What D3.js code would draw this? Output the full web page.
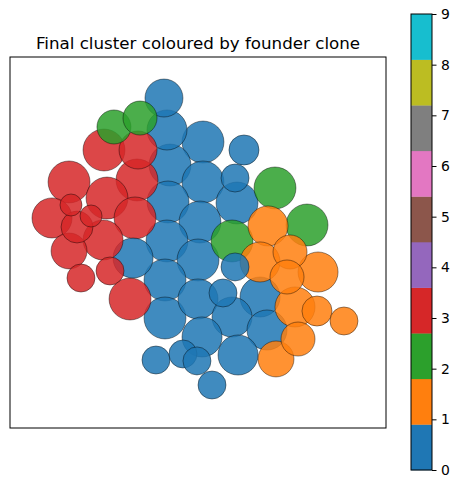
<!DOCTYPE html>
<html>
<head>
<meta charset="utf-8">
<script src="https://cdn.jsdelivr.net/npm/d3@7"></script>
<style>
  html, body { margin: 0; padding: 0; background: #fff; }
  svg { display: block; }
  text { font-family: "DejaVu Sans", sans-serif; fill: #000; }
</style>
</head>
<body>
<svg id="chart" width="461" height="489"></svg>
<script>
// ---- data (cell positions x, y, radius r in data units; founder clone id) ----
// clone 0 (blue)
const blueX = [-3.62, -3.30, 0.53, 4.89, -2.98, 3.94, 0.53, 4.15, -3.19, 0.21, -3.30, 0.00, 3.94, -6.91,
  -3.51, 0.00, 2.66, 6.60, -3.51, 3.62, 0.43, 7.34, 4.26, -4.47, -1.60, -0.11, 1.49];
const blueY = [15.37, 11.97, 10.69, 9.84, 8.24, 6.86, 6.44, 4.20, 4.31, 2.18, 0.16, -1.86, -2.60, -1.65,
  -3.99, -6.01, -5.37, -5.80, -8.03, -7.93, -10.05, -9.31, -11.97, -12.50, -11.86, -12.60, -15.16];
const blueR = [2.02, 2.13, 2.23, 1.60, 2.23, 1.49, 2.23, 2.23, 2.23, 2.23, 2.23, 2.23, 1.49, 2.13,
  2.23, 2.13, 1.49, 2.13, 2.23, 2.13, 2.13, 2.13, 2.13, 1.49, 1.49, 1.49, 1.49];
// clone 1 (orange)
const orangeX = [7.45, 6.60, 9.79, 12.77, 9.47, 10.32, 12.66, 15.53, 10.64, 8.30];
const orangeY = [1.76, -2.07, -1.01, -3.14, -3.67, -6.86, -7.29, -8.35, -10.27, -12.39];
const orangeR = [2.13, 2.13, 1.81, 2.13, 1.81, 2.13, 1.60, 1.49, 1.81, 1.91];
// clone 2 (green)
const greenX = [-8.94, -6.17, 8.19, 11.60, 3.62];
const greenY = [12.29, 13.24, 5.80, 1.86, 0.16];
const greenR = [1.81, 1.81, 2.23, 2.23, 2.23];
// clone 3 (red)
const redX = [-6.38, -10.00, -13.72, -6.49, -9.68, -6.70, -15.53, -13.51, -11.38, -12.87, -13.72,
  -10.10, -9.36, -12.45, -7.23];
const redY = [9.84, 9.84, 6.44, 6.65, 4.73, 2.61, 2.61, 3.99, 2.82, 1.65, -0.90,
  0.27, -3.03, -3.78, -6.01];
const redR = [2.02, 2.23, 2.23, 2.23, 2.23, 2.23, 2.13, 1.17, 1.17, 1.70, 1.91,
  2.13, 1.49, 1.49, 2.23];

const cloneTicks = [0, 1, 2, 3, 4, 5, 6, 7, 8, 9];
const tab10 = ["#1f77b4", "#ff7f0e", "#2ca02c", "#d62728", "#9467bd",
               "#8c564b", "#e377c2", "#7f7f7f", "#bcbd22", "#17becf"];
const titleText = "Final cluster coloured by founder clone";

// ---- assemble ----
const groups = [
  { c: 0, xs: blueX, ys: blueY, rs: blueR },
  { c: 1, xs: orangeX, ys: orangeY, rs: orangeR },
  { c: 2, xs: greenX, ys: greenY, rs: greenR },
  { c: 3, xs: redX, ys: redY, rs: redR }
];
const cells = [];
groups.forEach(g => g.xs.forEach((x, i) => cells.push({ x, y: g.ys[i], r: g.rs[i], c: g.c })));
cells.sort((a, b) => b.r - a.r);

// ---- layout ----
const svg = d3.select("#chart");
const plot = { left: 10, top: 57, right: 386, bottom: 428 };
const xScale = d3.scaleLinear().domain([-20, 20]).range([plot.left, plot.right]);
const pxPerUnit = (plot.right - plot.left) / 40;
const yMid = 242.5;
const yScale = d3.scaleLinear()
  .domain([(yMid - plot.bottom) / pxPerUnit, (yMid - plot.top) / pxPerUnit])
  .range([plot.bottom, plot.top]);

const gPlot = svg.append("g");
gPlot.append("defs").append("clipPath").attr("id", "clip")
  .append("rect").attr("x", plot.left).attr("y", plot.top)
  .attr("width", plot.right - plot.left).attr("height", plot.bottom - plot.top);

gPlot.append("g").attr("clip-path", "url(#clip)")
  .selectAll("circle").data(cells).join("circle")
  .attr("cx", d => xScale(d.x))
  .attr("cy", d => yScale(d.y))
  .attr("r", d => d.r * pxPerUnit)
  .attr("fill", d => tab10[d.c])
  .attr("fill-opacity", 0.85)
  .attr("stroke", "#000")
  .attr("stroke-opacity", 0.7)
  .attr("stroke-width", 0.6);

gPlot.append("rect")
  .attr("x", plot.left).attr("y", plot.top)
  .attr("width", plot.right - plot.left).attr("height", plot.bottom - plot.top)
  .attr("fill", "none").attr("stroke", "#000").attr("stroke-width", 1);

svg.append("text")
  .attr("x", (plot.left + plot.right) / 2).attr("y", 49)
  .attr("text-anchor", "middle").attr("font-size", 16.7)
  .text(titleText);

// ---- colorbar ----
const cb = { left: 411, right: 432, top: 14, bottom: 470 };
const cScale = d3.scaleLinear().domain([0, 9]).range([cb.bottom, cb.top]);
const bandW = 9 / tab10.length;
const gCb = svg.append("g");
gCb.selectAll("rect.band").data(tab10).join("rect")
  .attr("class", "band")
  .attr("x", cb.left).attr("width", cb.right - cb.left)
  .attr("y", (d, i) => cScale((i + 1) * bandW))
  .attr("height", (d, i) => cScale(i * bandW) - cScale((i + 1) * bandW) + 0.3)
  .attr("fill", d => d);
gCb.append("rect")
  .attr("x", cb.left).attr("y", cb.top)
  .attr("width", cb.right - cb.left).attr("height", cb.bottom - cb.top)
  .attr("fill", "none").attr("stroke", "#000").attr("stroke-width", 1);
const axis = d3.axisRight(cScale).tickValues(cloneTicks).tickFormat(d3.format("d"))
  .tickSize(4.5).tickPadding(4.5);
const gAxis = gCb.append("g").attr("transform", `translate(${cb.right},0)`).call(axis);
gAxis.select(".domain").remove();
gAxis.selectAll("text").attr("font-size", 13.9).attr("font-family", "DejaVu Sans").attr("fill", "#000");
gAxis.selectAll("line").attr("stroke", "#000");
</script>
</body>
</html>
